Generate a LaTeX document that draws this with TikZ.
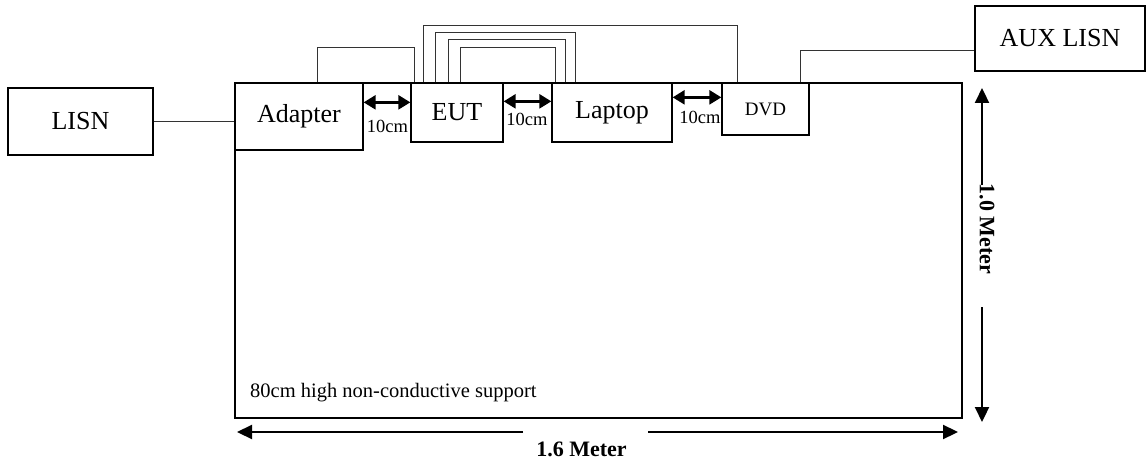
\documentclass[tikz,border=0pt]{standalone}
\usepackage{fontspec}
\setmainfont{Liberation Serif}
\usetikzlibrary{arrows.meta,calc}
\tikzset{
	unitbox/.style={draw, line width=1.3pt, inner sep=0pt, font=\fontsize{26}{30}\selectfont},
	wire/.style={line width=0.9pt, black!80},
	gaparrow/.style={line width=2.5pt, {Triangle[length=12pt,width=14pt]}-{Triangle[length=12pt,width=14pt]}},
	dimarrow/.style={line width=2.2pt, -{Triangle[length=15pt,width=14pt]}},
	gaplabel/.style={font=\fontsize{18.5}{20}\selectfont, inner sep=0pt},
	dimlabel/.style={font=\bfseries\fontsize{22}{24}\selectfont, inner sep=0pt}
}
\begin{document}
\begin{tikzpicture}[x=1pt,y=-1pt]
	\useasboundingbox (0,0) rectangle (1147,465);
	\node[unitbox, minimum width=727pt, minimum height=335pt] (support) at (598.5,250.5) {};
	\node[anchor=west, inner sep=0pt, font=\fontsize{20.5}{22}\selectfont] (supportlabel) at (250,393) {80cm high non-conductive support};
	\node[unitbox, minimum width=145pt, minimum height=67pt] (lisn) at (80.5,121.5) {LISN};
	\node[unitbox, minimum width=128pt, minimum height=67pt] (adapter) at (299,116.5) {Adapter};
	\node[unitbox, minimum width=92pt, minimum height=59pt] (eut) at (457,112.5) {EUT};
	\node[unitbox, minimum width=120pt, minimum height=59pt] (laptop) at (612,112.5) {Laptop};
	\node[unitbox, minimum width=87pt, minimum height=52pt, font=\fontsize{19}{21}\selectfont] (dvd) at (765.5,109) {DVD};
	\node[unitbox, minimum width=170pt, minimum height=65pt] (auxlisn) at (1060,38.5) {AUX LISN};

	\draw[wire] (lisn.east) -- (lisn.east -| adapter.west);
	\draw[wire] ($(adapter.north west)+(83,0)$) -- ++(0,-35) -| ($(eut.north west)+(4,0)$);
	\draw[wire] ($(eut.north west)+(13,0)$) -- ++(0,-57) -| ($(dvd.north west)+(16,0)$);
	\foreach \a/\b/\h in {25/24/50, 38/14/43, 50/4/35}
		\draw[wire] ($(eut.north west)+(\a,0)$) -- ++(0,-\h) -| ($(laptop.north west)+(\b,0)$);
	\draw[wire] ($(dvd.north west)+(79,0)$) |- ($(auxlisn.west)+(0,11.5)$);

	\draw[gaparrow] ($(adapter.north east)+(0,20)$) -- ($(eut.north west)+(0,20)$);
	\draw[gaparrow] ($(eut.north east)+(0,19)$) -- ($(laptop.north west)+(0,19)$);
	\draw[gaparrow] ($(laptop.north east)+(0,15)$) -- ($(dvd.north west)+(0,15)$);
	\node[gaplabel] (gapone) at (387.5,126) {10cm};
	\node[gaplabel] (gaptwo) at (527,119) {10cm};
	\node[gaplabel] (gapthree) at (700,117.5) {10cm};

	\coordinate (lenL) at (237,432);
	\coordinate (lenA) at (523,432);
	\coordinate (lenB) at (648,432);
	\coordinate (lenR) at (958,432);
	\draw[dimarrow] (lenA) -- (lenL);
	\draw[dimarrow] (lenB) -- (lenR);
	\node[dimlabel] (lenlabel) at (581.5,449) {1.6 Meter};

	\coordinate (hgtT) at (982,88);
	\coordinate (hgtA) at (982,185);
	\coordinate (hgtB) at (982,307);
	\coordinate (hgtD) at (982,422);
	\draw[dimarrow] (hgtA) -- (hgtT);
	\draw[dimarrow] (hgtB) -- (hgtD);
	\node[dimlabel, rotate=-90] (hgtlabel) at (987,229) {1.0 Meter};
\end{tikzpicture}
\end{document}
